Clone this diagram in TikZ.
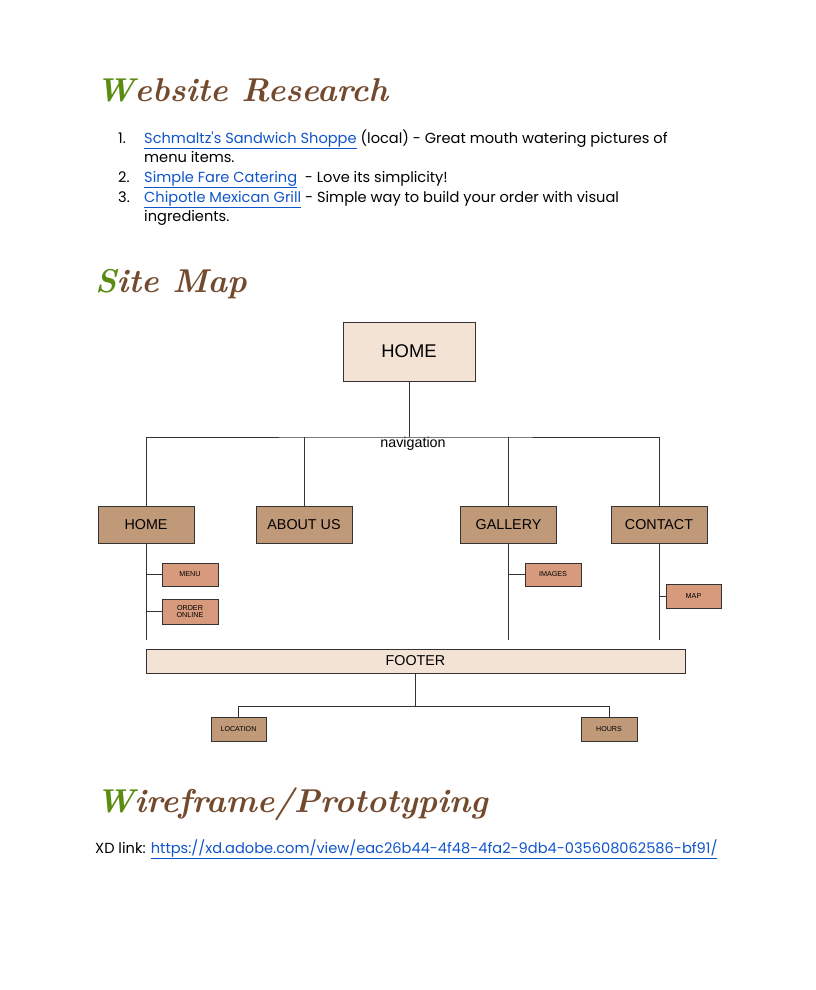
\documentclass[tikz,border=0pt]{standalone}
\usepackage{fontspec}
\newfontfamily\bodyfont{Poppins}
\newfontfamily\diagfont{Liberation Sans}
\definecolor{leaf}{HTML}{5B8C12}
\definecolor{bark}{HTML}{744A2E}
\definecolor{linkblue}{HTML}{1155CC}
\definecolor{toptan}{HTML}{F3E3D4}
\definecolor{midtan}{HTML}{C09A78}
\definecolor{salmon}{HTML}{D79A7C}
\begin{document}
\begin{tikzpicture}[x=1pt,y=-1pt,
	box/.style={draw=black!80,line width=0.7pt,inner sep=0pt,font=\diagfont},
	secbox/.style={box,fill=midtan,minimum width=96pt,minimum height=37pt,font=\diagfont\fontsize{14.3}{16}\selectfont},
	subbox/.style={box,fill=salmon,minimum width=56pt,minimum height=24pt,align=center,font=\diagfont\fontsize{7.2}{8}\selectfont},
	footbox/.style={box,fill=midtan,minimum width=55pt,minimum height=24pt,font=\diagfont\fontsize{7.1}{8}\selectfont},
	line/.style={draw=black!80,line width=0.7pt},
	heading/.style={anchor=base west,inner sep=0pt,text=bark,font=\bfseries\itshape\fontsize{33}{38}\selectfont},
	body/.style={anchor=base west,inner sep=0pt,font=\bodyfont\fontsize{14.6}{17}\selectfont}]
\useasboundingbox (0,0) rectangle (816,990);
\node[heading] (research) at (96,101) {\textcolor{leaf}{W}ebsite Research};
\node[body] (num1) at (118,143) {1.};
\node[body] (item1) at (144,143) {\textcolor{linkblue}{\underline{Schmaltz's Sandwich Shoppe}} (local) - Great mouth watering pictures of};
\node[body] (item1b) at (144,162) {menu items.};
\node[body] (num2) at (118,182) {2.};
\node[body] (item2) at (144,182) {\textcolor{linkblue}{\underline{Simple Fare Catering}} \ - Love its simplicity!};
\node[body] (num3) at (118,202) {3.};
\node[body] (item3) at (144,202) {\textcolor{linkblue}{\underline{Chipotle Mexican Grill}} - Simple way to build your order with visual};
\node[body] (item3b) at (144,221) {ingredients.};
\node[heading] (sitemap) at (95,292) {\textcolor{leaf}{S}ite Map};
\node[box,fill=toptan,minimum width=132pt,minimum height=59pt,font=\diagfont\fontsize{18.4}{20}\selectfont] (home) at (409,351.5) {HOME};
\coordinate (nav) at (409,437);
\node[font=\diagfont\fontsize{14.3}{16}\selectfont] (navlabel) at (413,444) {navigation};
\node[secbox] (hm) at (146,524.5) {HOME};
\node[secbox] (about) at (304,524.5) {ABOUT US};
\node[secbox] (gallery) at (508.5,524.5) {GALLERY};
\node[secbox] (contact) at (659,524.5) {CONTACT};
\draw[line] (home.south) -- (nav);
\draw[line] (hm.north) |- (nav) -| (contact.north);
\draw[line] (about.north) -- (about.north |- nav);
\draw[line] (gallery.north) -- (gallery.north |- nav);
\node[subbox,minimum height=23pt] (menu) at (190,574.5) {MENU};
\node[subbox,minimum height=25pt] (order) at (190,611.5) {ORDER\\[-1.5pt]ONLINE};
\node[subbox,minimum height=23pt] (images) at (553,574.5) {IMAGES};
\node[subbox,minimum width=55pt] (map) at (693.5,596) {MAP};
\coordinate (hmend) at (146,640);
\coordinate (galleryend) at (508.5,640);
\coordinate (contactend) at (659,640);
\draw[line] (hm.south) -- (hmend);
\draw[line] (gallery.south) -- (galleryend);
\draw[line] (contact.south) -- (contactend);
\draw[line] (menu.west) -- (menu.west -| hm.south);
\draw[line] (order.west) -- (order.west -| hm.south);
\draw[line] (images.west) -- (images.west -| gallery.south);
\draw[line] (map.west) -- (map.west -| contact.south);
\node[box,fill=toptan,minimum width=539pt,minimum height=24pt,font=\diagfont\fontsize{14.3}{16}\selectfont] (footer) at (415.5,661) {FOOTER};
\node[footbox] (location) at (238.5,729) {LOCATION};
\node[footbox,minimum width=56pt] (hours) at (609,729) {HOURS};
\draw[line] (footer.south) -- ++(0,33) coordinate (split);
\draw[line] (location.north) |- (split) -| (hours.north);
\node[heading] (wireframe) at (96,812) {\textcolor{leaf}{W}ireframe/Prototyping};
\node[body] (xdlink) at (95,853) {XD link: \textcolor{linkblue}{\underline{https://xd.adobe.com/view/eac26b44-4f48-4fa2-9db4-035608062586-bf91/}}};
\end{tikzpicture}
\end{document}
